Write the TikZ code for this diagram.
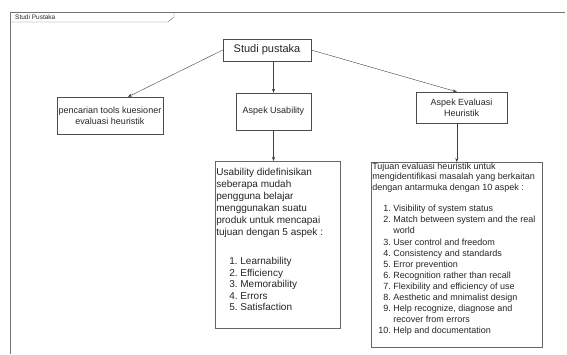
\documentclass[tikz,border=0pt]{standalone}
\usepackage{fontspec}
\setmainfont{Liberation Sans}
\usepackage{xcolor}
\usetikzlibrary{arrows.meta}
\usetikzlibrary{shadows}
\tikzset{
    tnode/.style = {align=center, inner sep=0pt, text centered, text=black!85},
    box_node/.style = {tnode, rectangle, draw=black!70, fill=white, thin},
    text_box/.style = {tnode, rectangle, draw=black!60, fill=white, anchor=north west, inner xsep=1pt, inner ysep=0pt, line width=0.6pt,
                       drop shadow={shadow xshift=0.7pt, shadow yshift=-0.7pt, fill=black!35, opacity=1}},
    frame_line/.style = {draw=black!55, thin},
    link/.style = {-{Stealth[length=4pt, width=3pt]}, draw=black!75, thin}
}

\begin{document}
\begin{tikzpicture}[x=1pt, y=-1pt]
    \useasboundingbox (0,0) rectangle (567,354);
    % frame
    \draw[frame_line] (10,354) -- (10,12) -- (565,12);
    \draw[frame_line] (10,22) -- (168,22) -- (174,17) -- (174,12);
    \node[tnode, anchor=west, font=\fontsize{6.5}{7}\selectfont] (frame_title) at (15,17) {Studi Pustaka};

    \node[box_node, minimum width=88pt, minimum height=22pt, font=\fontsize{11}{13}\selectfont] (studi) at (267,50) {Studi pustaka};
    \node[box_node, minimum width=106pt, minimum height=37pt, font=\fontsize{9}{11}\selectfont] (pencarian) at (110,115.5)
        {pencarian tools kuesioner\\evaluasi heuristik};
    \node[box_node, minimum width=75pt, minimum height=37pt, font=\fontsize{9}{11}\selectfont] (usability) at (273.5,111.5) {Aspek Usability};
    \node[box_node, minimum width=91pt, minimum height=31pt, font=\fontsize{9}{10.6}\selectfont] (evaluasi) at (461.5,107.5)
        {Aspek Evaluasi\\Heuristik};

    \node[text_box] (usab_def) at (215,161) {\parbox[t][167pt][t]{123pt}{\fontsize{10}{12}\selectfont\raggedright\parskip=0pt
        \vspace*{7pt}%
        Usability didefinisikan\\
        seberapa mudah\\
        pengguna belajar\\
        menggunakan suatu\\
        produk untuk mencapai\\
        tujuan dengan 5 aspek :\par
        \vspace{17.5pt}%
        \fontsize{10}{11.5}\selectfont
        \begin{tabular}[t]{@{\hspace{13pt}}r@{\ }l@{}}
            1. & Learnability\\
            2. & Efficiency\\
            3. & Memorability\\
            4. & Errors\\
            5. & Satisfaction
        \end{tabular}}};

    \node[text_box] (heur_def) at (371,162) {\parbox[t][185pt][t]{169pt}{\fontsize{9}{10.4}\selectfont\raggedright\parskip=0pt
        \vspace*{0.5pt}%
        Tujuan evaluasi heuristik untuk\\
        mengidentifikasi masalah yang berkaitan\\
        dengan antarmuka dengan 10 aspek :\par
        \vspace{10.5pt}%
        \fontsize{9}{11.1}\selectfont
        \begin{tabular}[t]{@{\hspace{6pt}}r@{\hspace{2.5pt}}l@{}}
            1. & Visibility of system status\\
            2. & Match between system and the real\\
               & world\\
            3. & User control and freedom\\
            4. & Consistency and standards\\
            5. & Error prevention\\
            6. & Recognition rather than recall\\
            7. & Flexibility and efficiency of use\\
            8. & Aesthetic and mnimalist design\\
            9. & Help recognize, diagnose and\\
               & recover from errors\\
            10. & Help and documentation
        \end{tabular}}};

    \draw[link] (studi.west) -- ([xshift=18pt]pencarian.north);
    \draw[link] (studi.south -| usability.north) -- (usability.north);
    \draw[link] (studi.east) -- (evaluasi.north -| heur_def.north);
    \draw[link] (usability.south) -- (usability.south |- usab_def.north);
    \draw[link] (evaluasi.south -| heur_def.north) -- (heur_def.north);
\end{tikzpicture}
\end{document}
